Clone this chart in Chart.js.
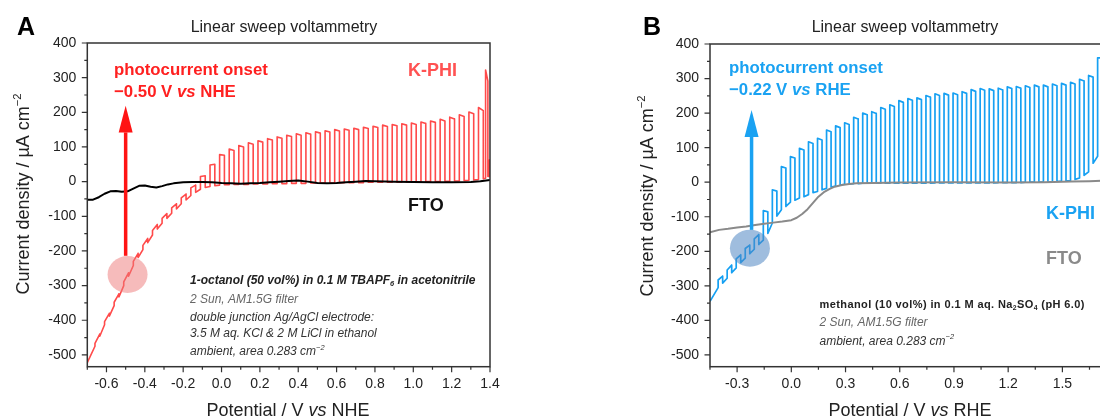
<!DOCTYPE html>
<html>
<head>
<meta charset="utf-8">
<script src="https://cdn.jsdelivr.net/npm/chart.js@4.4.1/dist/chart.umd.min.js"></script>
<style>
  html, body { margin: 0; padding: 0; background: #fff; overflow: hidden; }
  #wrap { position: relative; width: 1100px; height: 419px; overflow: hidden; }
  canvas { position: absolute; top: 0; }
  #panelA { left: 0; }
  #panelB { left: 550px; }
</style>
</head>
<body>
<div id="wrap">
  <canvas id="panelA" width="550" height="419"></canvas>
  <canvas id="panelB" width="600" height="419"></canvas>
</div>
<script>
// ---- axis ticks ----
const yTicks = [400, 300, 200, 100, 0, -100, -200, -300, -400, -500];
const xTicksA = [-0.6, -0.4, -0.2, 0.0, 0.2, 0.4, 0.6, 0.8, 1.0, 1.2, 1.4];
const xTicksB = [-0.3, 0.0, 0.3, 0.6, 0.9, 1.2, 1.5, 1.8];

// ---- panel A: 1-octanol / TBAPF6, potential vs NHE ----
const ftoA_v = [-0.70, -0.67, -0.64, -0.61, -0.58, -0.55, -0.52, -0.49, -0.46, -0.43, -0.40, -0.37, -0.34, -0.31, -0.28, -0.25,
  -0.20, -0.15, -0.10, -0.05, 0.00, 0.05, 0.10, 0.15, 0.20, 0.25, 0.30, 0.35, 0.40, 0.45, 0.50, 0.55, 0.60, 0.65, 0.70, 0.75, 0.80,
  0.90, 1.00, 1.10, 1.20, 1.30, 1.35, 1.40];
const ftoA_j = [-52, -52, -45, -35, -28, -27, -29, -28, -20, -12, -11, -15, -17, -13, -8, -5,
  -2, -1, -1, -2, -4, -5, -6, -5, -4, -2, 0, 2, 3, 0, -4, -5, -4, -2, 0, 2, 1,
  0, -1, -2, -2, -1, 1, 5];

// chopped illumination: light on/off edges and current at each edge
const kphiA_start = [-0.70, -522];
const chopA_on = [-0.66, -0.61, -0.56, -0.51, -0.46, -0.41, -0.36, -0.31, -0.26, -0.21, -0.16, -0.11, -0.06, -0.01,
  0.04, 0.09, 0.14, 0.19, 0.24, 0.29, 0.34, 0.39, 0.44, 0.49, 0.54, 0.59, 0.64, 0.69, 0.74, 0.79, 0.84, 0.89, 0.94, 0.99,
  1.04, 1.09, 1.14, 1.19, 1.24, 1.29, 1.34, 1.377, 1.396];
const chopA_off = [-0.635, -0.585, -0.535, -0.485, -0.435, -0.385, -0.335, -0.285, -0.235, -0.185, -0.135, -0.085, -0.035, 0.015,
  0.065, 0.115, 0.165, 0.215, 0.265, 0.315, 0.365, 0.415, 0.465, 0.515, 0.565, 0.615, 0.665, 0.715, 0.765, 0.815, 0.865, 0.915, 0.965, 1.015,
  1.065, 1.115, 1.165, 1.215, 1.265, 1.315, 1.365, 1.389, 1.42];
const chopA_dark = [-475, -413, -358, -300, -242, -196, -154, -120, -91, -64, -40, -22, -14, -10,
  -9, -8, -8, -7, -7, -6, -6, -5, -5, -4, -4, -4, -3, -3, -3, -2, -2, -2, -2, -1,
  -1, 0, 0, 1, 2, 4, 6, 10, 15];
const chopA_peak = [-467, -404, -348, -289, -230, -184, -141, -106, -76, -47, -18, 15, 48, 78,
  94, 104, 112, 118, 124, 129, 134, 138, 141, 144, 147, 150, 152, 154, 157, 160, 163, 165, 167, 169,
  172, 175, 180, 186, 193, 201, 214, 322, 62];
const chopA_tail = [-440, -380, -324, -263, -207, -164, -124, -92, -64, -36, -10, 17, 50, 76,
  90, 100, 108, 114, 120, 125, 130, 134, 137, 140, 143, 146, 148, 150, 153, 156, 159, 161, 163, 165,
  168, 171, 175, 181, 188, 196, 205, 290, 70];
const chopA_rest = [-446, -388, -333, -273, -219, -176, -137, -106, -79, -53, -31, -17, -12, -9,
  -8, -8, -7, -7, -6, -6, -5, -5, -4, -4, -4, -3, -3, -3, -2, -2, -2, -2, -1, -1,
  0, 0, 1, 2, 3, 5, 8, 15, 15];

// ---- panel B: methanol / Na2SO4, potential vs RHE ----
const ftoB_v = [-0.45, -0.40, -0.35, -0.30, -0.25, -0.20, -0.15, -0.10, -0.05, 0.00, 0.03, 0.06, 0.09, 0.12, 0.15, 0.18,
  0.21, 0.24, 0.28, 0.32, 0.36, 0.45, 0.60, 0.90, 1.20, 1.40, 1.55, 1.65, 1.75];
const ftoB_j = [-145, -138, -135, -131, -128, -124, -120, -117, -114, -110, -103, -92, -78, -60, -42, -29,
  -20, -13, -8, -5, -3, -2, -1, 0, -1, 0, 2, 3, 5];

const kphiB_start = [-0.45, -345];
const chopB_on = [-0.405, -0.355, -0.305, -0.255, -0.205, -0.155, -0.105, -0.055, -0.005, 0.045, 0.095, 0.145, 0.195, 0.245,
  0.295, 0.345, 0.395, 0.445, 0.495, 0.545, 0.595, 0.645, 0.695, 0.745, 0.795, 0.845, 0.895, 0.945, 0.995, 1.045,
  1.095, 1.145, 1.195, 1.245, 1.295, 1.345, 1.395, 1.445, 1.495, 1.545, 1.595, 1.645, 1.695];
const chopB_off = [-0.38, -0.33, -0.28, -0.23, -0.18, -0.13, -0.08, -0.03, 0.02, 0.07, 0.12, 0.17, 0.22, 0.27,
  0.32, 0.37, 0.42, 0.47, 0.52, 0.57, 0.62, 0.67, 0.72, 0.77, 0.82, 0.87, 0.92, 0.97, 1.02, 1.07,
  1.12, 1.17, 1.22, 1.27, 1.32, 1.37, 1.42, 1.47, 1.52, 1.57, 1.62, 1.67, 1.72];
const chopB_dark = [-305, -278, -248, -220, -194, -168, -118, -80, -58, -46, -36, -27, -18, -11,
  -6, -4, -3, -3, -3, -3, -3, -3, -3, -3, -2, -2, -2, -2, -2, -2,
  -2, -1, -1, -1, 0, 0, 1, 2, 3, 5, 12, 30, 75];
const chopB_peak = [-283, -254, -222, -192, -164, -82, -22, 45, 74, 98, 117, 127, 151, 163,
  172, 188, 200, 204, 216, 224, 236, 242, 244, 251, 256, 257, 258, 262, 268, 271,
  270, 272, 276, 277, 279, 281, 281, 284, 286, 289, 298, 309, 360];
const chopB_tail = [-272, -240, -210, -182, -152, -86, -26, 41, 70, 93, 112, 122, 146, 158,
  167, 183, 195, 199, 211, 219, 231, 237, 239, 246, 251, 252, 253, 257, 263, 266,
  265, 267, 271, 272, 274, 276, 276, 279, 281, 284, 293, 304, 360];
const chopB_rest = [-292, -262, -233, -207, -180, -148, -98, -70, -52, -42, -30, -22, -14, -8,
  -5, -4, -3, -3, -3, -3, -3, -3, -3, -3, -2, -2, -2, -2, -2, -2,
  -2, -1, -1, -1, 0, 0, 1, 2, 4, 8, 20, 55, 360];

const FONT = '"Liberation Sans", Arial, Helvetica, sans-serif';

function toPoints(xs, ys) {
  return xs.map((x, i) => ({ x: x, y: ys[i] }));
}

// square-wave trace: dark -> light at each "on" edge, light -> dark at each "off" edge
function chopTrace(start, on, off, dark, peak, tail, rest) {
  const pts = [{ x: start[0], y: start[1] }];
  for (let i = 0; i < on.length; i++) {
    pts.push({ x: on[i], y: dark[i] }, { x: on[i], y: peak[i] });
    pts.push({ x: off[i], y: tail[i] }, { x: off[i], y: rest[i] });
  }
  return pts;
}

function font(size, bold, italic) {
  return (italic ? 'italic ' : '') + (bold ? 'bold ' : '') + size + 'px ' + FONT;
}

// text made of pieces with their own weight / slant / sub / sup
function drawRuns(ctx, x, y, line) {
  const base = { size: 12, bold: false, italic: false, color: '#222' };
  Object.assign(base, line.style || {});
  ctx.letterSpacing = line.spacing || '0px';
  const parts = line.runs.map(r => {
    const p = Object.assign({}, base, r);
    let size = p.size, dy = 0;
    if (p.sub) { size = p.size * 0.62; dy = p.size * 0.22; }
    if (p.sup) { size = p.size * 0.62; dy = -p.size * 0.42; }
    const f = font(size, p.bold, p.italic);
    ctx.font = f;
    return { text: p.text, f: f, dy: dy, color: p.color, w: ctx.measureText(p.text).width };
  });
  const total = parts.reduce((s, p) => s + p.w, 0);
  let cx = line.align === 'center' ? x - total / 2 : x;
  ctx.textAlign = 'left';
  ctx.textBaseline = 'alphabetic';
  parts.forEach(p => {
    ctx.font = p.f;
    ctx.fillStyle = p.color;
    ctx.fillText(p.text, cx, y + p.dy);
    cx += p.w;
  });
  ctx.letterSpacing = '0px';
}

const RED = '#ff2020', BLUE = '#1aa2f2';

const panelSpecs = {
  panelA: {
    onset: -0.50, arrow: [-214, 142, 219], circle: [-0.49, -268],
    accent: '#ff1414', circleColor: 'rgba(238, 120, 120, 0.5)',
    texts: [
      { x: 17, y: 35, runs: [{ text: 'A' }], style: { size: 25, bold: true, color: '#000' } },
      { x: 284, y: 32, align: 'center', runs: [{ text: 'Linear sweep voltammetry' }], style: { size: 16 } },
      { x: 288, y: 416, align: 'center', runs: [{ text: 'Potential / V ' }, { text: 'vs', italic: true }, { text: ' NHE' }], style: { size: 18 } },
      { x: 23, y: 194, rotate: true, align: 'center', runs: [{ text: 'Current density / µA cm' }, { text: '−2', sup: true }], style: { size: 18 } },
      { x: 114, y: 74.5, runs: [{ text: 'photocurrent onset' }], style: { size: 16.8, bold: true, color: RED } },
      { x: 114, y: 97.3, runs: [{ text: '−0.50 V ' }, { text: 'vs', italic: true }, { text: ' NHE' }], style: { size: 16.8, bold: true, color: RED } },
      { x: 408, y: 75.5, runs: [{ text: 'K-PHI' }], style: { size: 18, bold: true, color: '#ff5252' } },
      { x: 408, y: 211, runs: [{ text: 'FTO' }], style: { size: 18, bold: true, color: '#111' } },
      { x: 190, y: 283.6, runs: [{ text: '1-octanol (50 vol%) in 0.1 M TBAPF' }, { text: '6', sub: true }, { text: ' in acetonitrile' }],
        style: { size: 12, bold: true, italic: true, color: '#222' } },
      { x: 190, y: 303, runs: [{ text: '2 Sun, AM1.5G filter' }], style: { size: 12, italic: true, color: '#666' } },
      { x: 190, y: 320.5, runs: [{ text: 'double junction Ag/AgCl electrode:' }], style: { size: 12, italic: true, color: '#333' } },
      { x: 190, y: 337, runs: [{ text: '3.5 M aq. KCl & 2 M LiCl in ethanol' }], style: { size: 12, italic: true, color: '#333' } },
      { x: 190, y: 355, runs: [{ text: 'ambient, area 0.283 cm' }, { text: '−2', sup: true }], style: { size: 12, italic: true, color: '#333' } }
    ]
  },
  panelB: {
    onset: -0.22, arrow: [-138, 131, 209], circle: [-0.229, -191],
    accent: BLUE, circleColor: 'rgba(80, 135, 195, 0.55)',
    texts: [
      { x: 93, y: 35, runs: [{ text: 'B' }], style: { size: 25, bold: true, color: '#000' } },
      { x: 355, y: 32, align: 'center', runs: [{ text: 'Linear sweep voltammetry' }], style: { size: 16 } },
      { x: 360, y: 416, align: 'center', runs: [{ text: 'Potential / V ' }, { text: 'vs', italic: true }, { text: ' RHE' }], style: { size: 18 } },
      { x: 97, y: 196, rotate: true, align: 'center', runs: [{ text: 'Current density / µA cm' }, { text: '−2', sup: true }], style: { size: 18 } },
      { x: 179, y: 73, runs: [{ text: 'photocurrent onset' }], style: { size: 16.8, bold: true, color: BLUE } },
      { x: 179, y: 95.3, runs: [{ text: '−0.22 V ' }, { text: 'vs', italic: true }, { text: ' RHE' }], style: { size: 16.8, bold: true, color: BLUE } },
      { x: 496, y: 219, runs: [{ text: 'K-PHI' }], style: { size: 18, bold: true, color: BLUE } },
      { x: 496, y: 264, runs: [{ text: 'FTO' }], style: { size: 18, bold: true, color: '#8a8a8a' } },
      { x: 269.5, y: 307.7, spacing: '0.4px', runs: [{ text: 'methanol (10 vol%) in 0.1 M aq. Na' }, { text: '2', sub: true }, { text: 'SO' }, { text: '4', sub: true }, { text: ' (pH 6.0)' }],
        style: { size: 11, bold: true, color: '#222' } },
      { x: 269.5, y: 326, runs: [{ text: '2 Sun, AM1.5G filter' }], style: { size: 12, italic: true, color: '#666' } },
      { x: 269.5, y: 344.5, runs: [{ text: 'ambient, area 0.283 cm' }, { text: '−2', sup: true }], style: { size: 12, italic: true, color: '#333' } }
    ]
  }
};

// frame, outward tick marks, onset arrow, marker circle and labels
const decor = {
  id: 'decor',
  afterDatasetsDraw(chart) {
    const spec = panelSpecs[chart.canvas.id];
    const ctx = chart.ctx, xs = chart.scales.x, ys = chart.scales.y;
    ctx.save();
    ctx.fillStyle = spec.circleColor;
    ctx.beginPath();
    ctx.ellipse(xs.getPixelForValue(spec.circle[0]), ys.getPixelForValue(spec.circle[1]), 20, 18.5, 0, 0, Math.PI * 2);
    ctx.fill();

    const ax = xs.getPixelForValue(spec.onset);
    const yBot = ys.getPixelForValue(spec.arrow[0]);
    const yBase = ys.getPixelForValue(spec.arrow[1]);
    const yTip = ys.getPixelForValue(spec.arrow[2]);
    ctx.fillStyle = spec.accent;
    ctx.fillRect(ax - 1.75, yBase, 3.5, yBot - yBase);
    ctx.beginPath();
    ctx.moveTo(ax, yTip);
    ctx.lineTo(ax - 7, yBase);
    ctx.lineTo(ax + 7, yBase);
    ctx.closePath();
    ctx.fill();
    ctx.restore();
  },
  afterDraw(chart) {
    const spec = panelSpecs[chart.canvas.id];
    const ctx = chart.ctx, area = chart.chartArea;
    const xs = chart.scales.x, ys = chart.scales.y;
    ctx.save();
    ctx.strokeStyle = '#333';
    ctx.lineWidth = 1.5;
    ctx.strokeRect(area.left, area.top, area.right - area.left, area.bottom - area.top);

    ctx.lineWidth = 1.2;
    const marks = (scale) => {
      const vals = scale.ticks.map(t => t.value);
      const step = vals[1] - vals[0];
      const minor = vals.map(v => v - step / 2).concat([vals[vals.length - 1] + step / 2]);
      const inRange = v => v >= scale.min - 1e-9 && v <= scale.max + 1e-9;
      return { major: vals.filter(inRange), minor: minor.filter(inRange) };
    };
    const xm = marks(xs), ym = marks(ys);
    ctx.beginPath();
    xm.major.forEach(v => { const p = xs.getPixelForValue(v); ctx.moveTo(p, area.bottom); ctx.lineTo(p, area.bottom + 5.5); });
    xm.minor.forEach(v => { const p = xs.getPixelForValue(v); ctx.moveTo(p, area.bottom); ctx.lineTo(p, area.bottom + 3); });
    ym.major.forEach(v => { const p = ys.getPixelForValue(v); ctx.moveTo(area.left, p); ctx.lineTo(area.left - 5.5, p); });
    ym.minor.forEach(v => { const p = ys.getPixelForValue(v); ctx.moveTo(area.left, p); ctx.lineTo(area.left - 3, p); });
    ctx.stroke();

    spec.texts.forEach(t => {
      if (t.rotate) {
        ctx.save();
        ctx.translate(t.x, t.y);
        ctx.rotate(-Math.PI / 2);
        drawRuns(ctx, 0, 6, t);
        ctx.restore();
      } else {
        drawRuns(ctx, t.x, t.y, t);
      }
    });
    ctx.restore();
  }
};

function makePanel(id, opts) {
  return new Chart(document.getElementById(id), {
    type: 'line',
    data: {
      datasets: [
        { label: 'FTO', data: opts.fto, borderColor: opts.ftoColor, borderWidth: 2, pointRadius: 0, tension: 0, borderJoinStyle: 'round' },
        { label: 'K-PHI', data: opts.kphi, borderColor: opts.kphiColor, borderWidth: opts.kphiWidth, pointRadius: 0, tension: 0, borderJoinStyle: 'round' }
      ]
    },
    options: {
      responsive: false,
      animation: false,
      devicePixelRatio: 1,
      events: [],
      layout: { padding: { left: opts.padLeft, right: opts.padRight, top: opts.top, bottom: 0 } },
      plugins: { legend: { display: false }, tooltip: { enabled: false }, title: { display: false } },
      scales: {
        x: {
          type: 'linear', min: opts.xMin, max: opts.xMax,
          grid: { display: false, drawTicks: false }, border: { display: false },
          afterBuildTicks: s => { s.ticks = opts.xTicks.map(v => ({ value: v })); },
          afterFit: s => { s.height = 52.3; },
          ticks: { padding: 9, color: '#222', autoSkip: false, maxRotation: 0, font: { family: FONT, size: 14 },
            callback: v => v.toFixed(1) }
        },
        y: {
          type: 'linear', min: -534, max: 400,
          grid: { display: false, drawTicks: false }, border: { display: false },
          afterBuildTicks: s => { s.ticks = yTicks.map(v => ({ value: v })); },
          afterFit: s => { s.width = 87.3; },
          ticks: { padding: 11, color: '#222', autoSkip: false, font: { family: FONT, size: 14 },
            callback: v => String(v) }
        }
      }
    },
    plugins: [decor]
  });
}

makePanel('panelA', {
  fto: toPoints(ftoA_v, ftoA_j), ftoColor: '#000',
  kphi: chopTrace(kphiA_start, chopA_on, chopA_off, chopA_dark, chopA_peak, chopA_tail, chopA_rest),
  kphiColor: '#ff4a4a', kphiWidth: 1.6,
  xMin: -0.7, xMax: 1.4, xTicks: xTicksA, padLeft: 0, padRight: 60, top: 43
});

makePanel('panelB', {
  fto: toPoints(ftoB_v, ftoB_j), ftoColor: '#8a8a8a',
  kphi: chopTrace(kphiB_start, chopB_on, chopB_off, chopB_dark, chopB_peak, chopB_tail, chopB_rest),
  kphiColor: '#16a0f2', kphiWidth: 1.7,
  xMin: -0.45, xMax: 1.8, xTicks: xTicksB, padLeft: 72.7, padRight: 33.4, top: 44
});
</script>
</body>
</html>
